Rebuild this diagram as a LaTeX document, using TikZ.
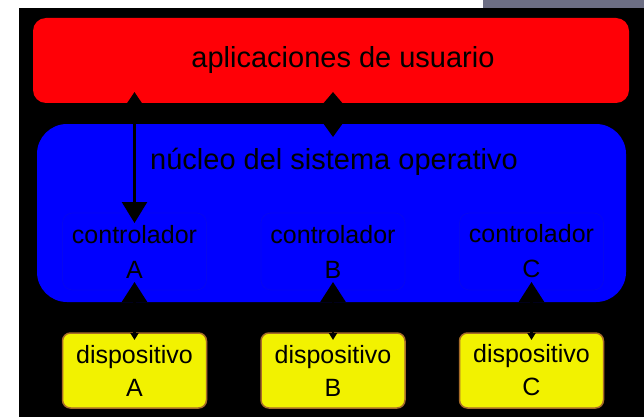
\documentclass[tikz,border=0pt]{standalone}
\usepackage{fontspec}
\setmainfont{Liberation Sans}
\usetikzlibrary{arrows.meta,calc}
\definecolor{appred}{RGB}{255,0,6}
\definecolor{kernblue}{RGB}{0,0,255}
\definecolor{ctlblue}{RGB}{6,6,240}
\definecolor{devyellow}{RGB}{242,242,0}
\definecolor{devedge}{RGB}{168,108,40}
\definecolor{topgray}{RGB}{108,110,132}
\begin{document}
\begin{tikzpicture}[x=1pt, y=-1pt,
    box/.style={inner sep=0pt, outer sep=0pt},
    bigtext/.style={font=\fontsize{29}{35}\selectfont},
    ctlbox/.style={box, draw=ctlblue, line width=0.8pt, rounded corners=10pt,
        minimum width=144pt, minimum height=77pt, align=center,
        font=\fontsize{25}{35}\selectfont},
    devbox/.style={box, fill=devyellow, draw=devedge, line width=1.5pt, rounded corners=8pt,
        minimum width=144pt, minimum height=75pt, align=center,
        font=\fontsize{25}{33}\selectfont},
    link/.style={black, line width=2.5pt}]
    \useasboundingbox (0,0) rectangle (644,417);
    \fill[white] (0,0) rectangle (644,417);
    \fill[topgray] (483,0) rectangle (644,8);
    \fill[black] (19,8) rectangle (644,417);

    \node[box, fill=appred, rounded corners=13pt, minimum width=596pt, minimum height=85pt] (app) at (331,60.5) {};
    \node[bigtext] (apptext) at (343,60) {aplicaciones de usuario};

    \node[box, fill=kernblue, rounded corners=30pt, minimum width=589pt, minimum height=178pt] (kernel) at (331.5,213) {};
    \node[bigtext] (kerneltext) at (334,162) {núcleo del sistema operativo};

    \foreach \n/\x in {A/134.5, B/333, C/531.5} {
        \node[ctlbox] (ctl\n) at (\x,251.5) {controlador\\\n};
        \node[devbox] (dev\n) at (\x,370.5) {dispositivo\\\n};
        \draw[link, {Triangle[width=25pt,length=20pt]}-{Triangle[width=8pt,length=7pt]}]
            ($(ctl\n.south)+(0,-8)$) -- ($(dev\n.north)+(0,7)$);
    }

    \draw[link, {Triangle[width=14pt,length=11pt]}-{Triangle[width=25pt,length=21pt]}]
        ($(app.south -| ctlA)+(0,-11)$) -- ($(ctlA.north)+(0,10)$);
    \draw[link, {Triangle[width=18pt,length=11pt]}-{Triangle[width=18pt,length=13pt]}]
        ($(app.south -| ctlB)+(0,-11)$) -- ($(kernel.north -| ctlB)+(0,13)$);
\end{tikzpicture}
\end{document}
